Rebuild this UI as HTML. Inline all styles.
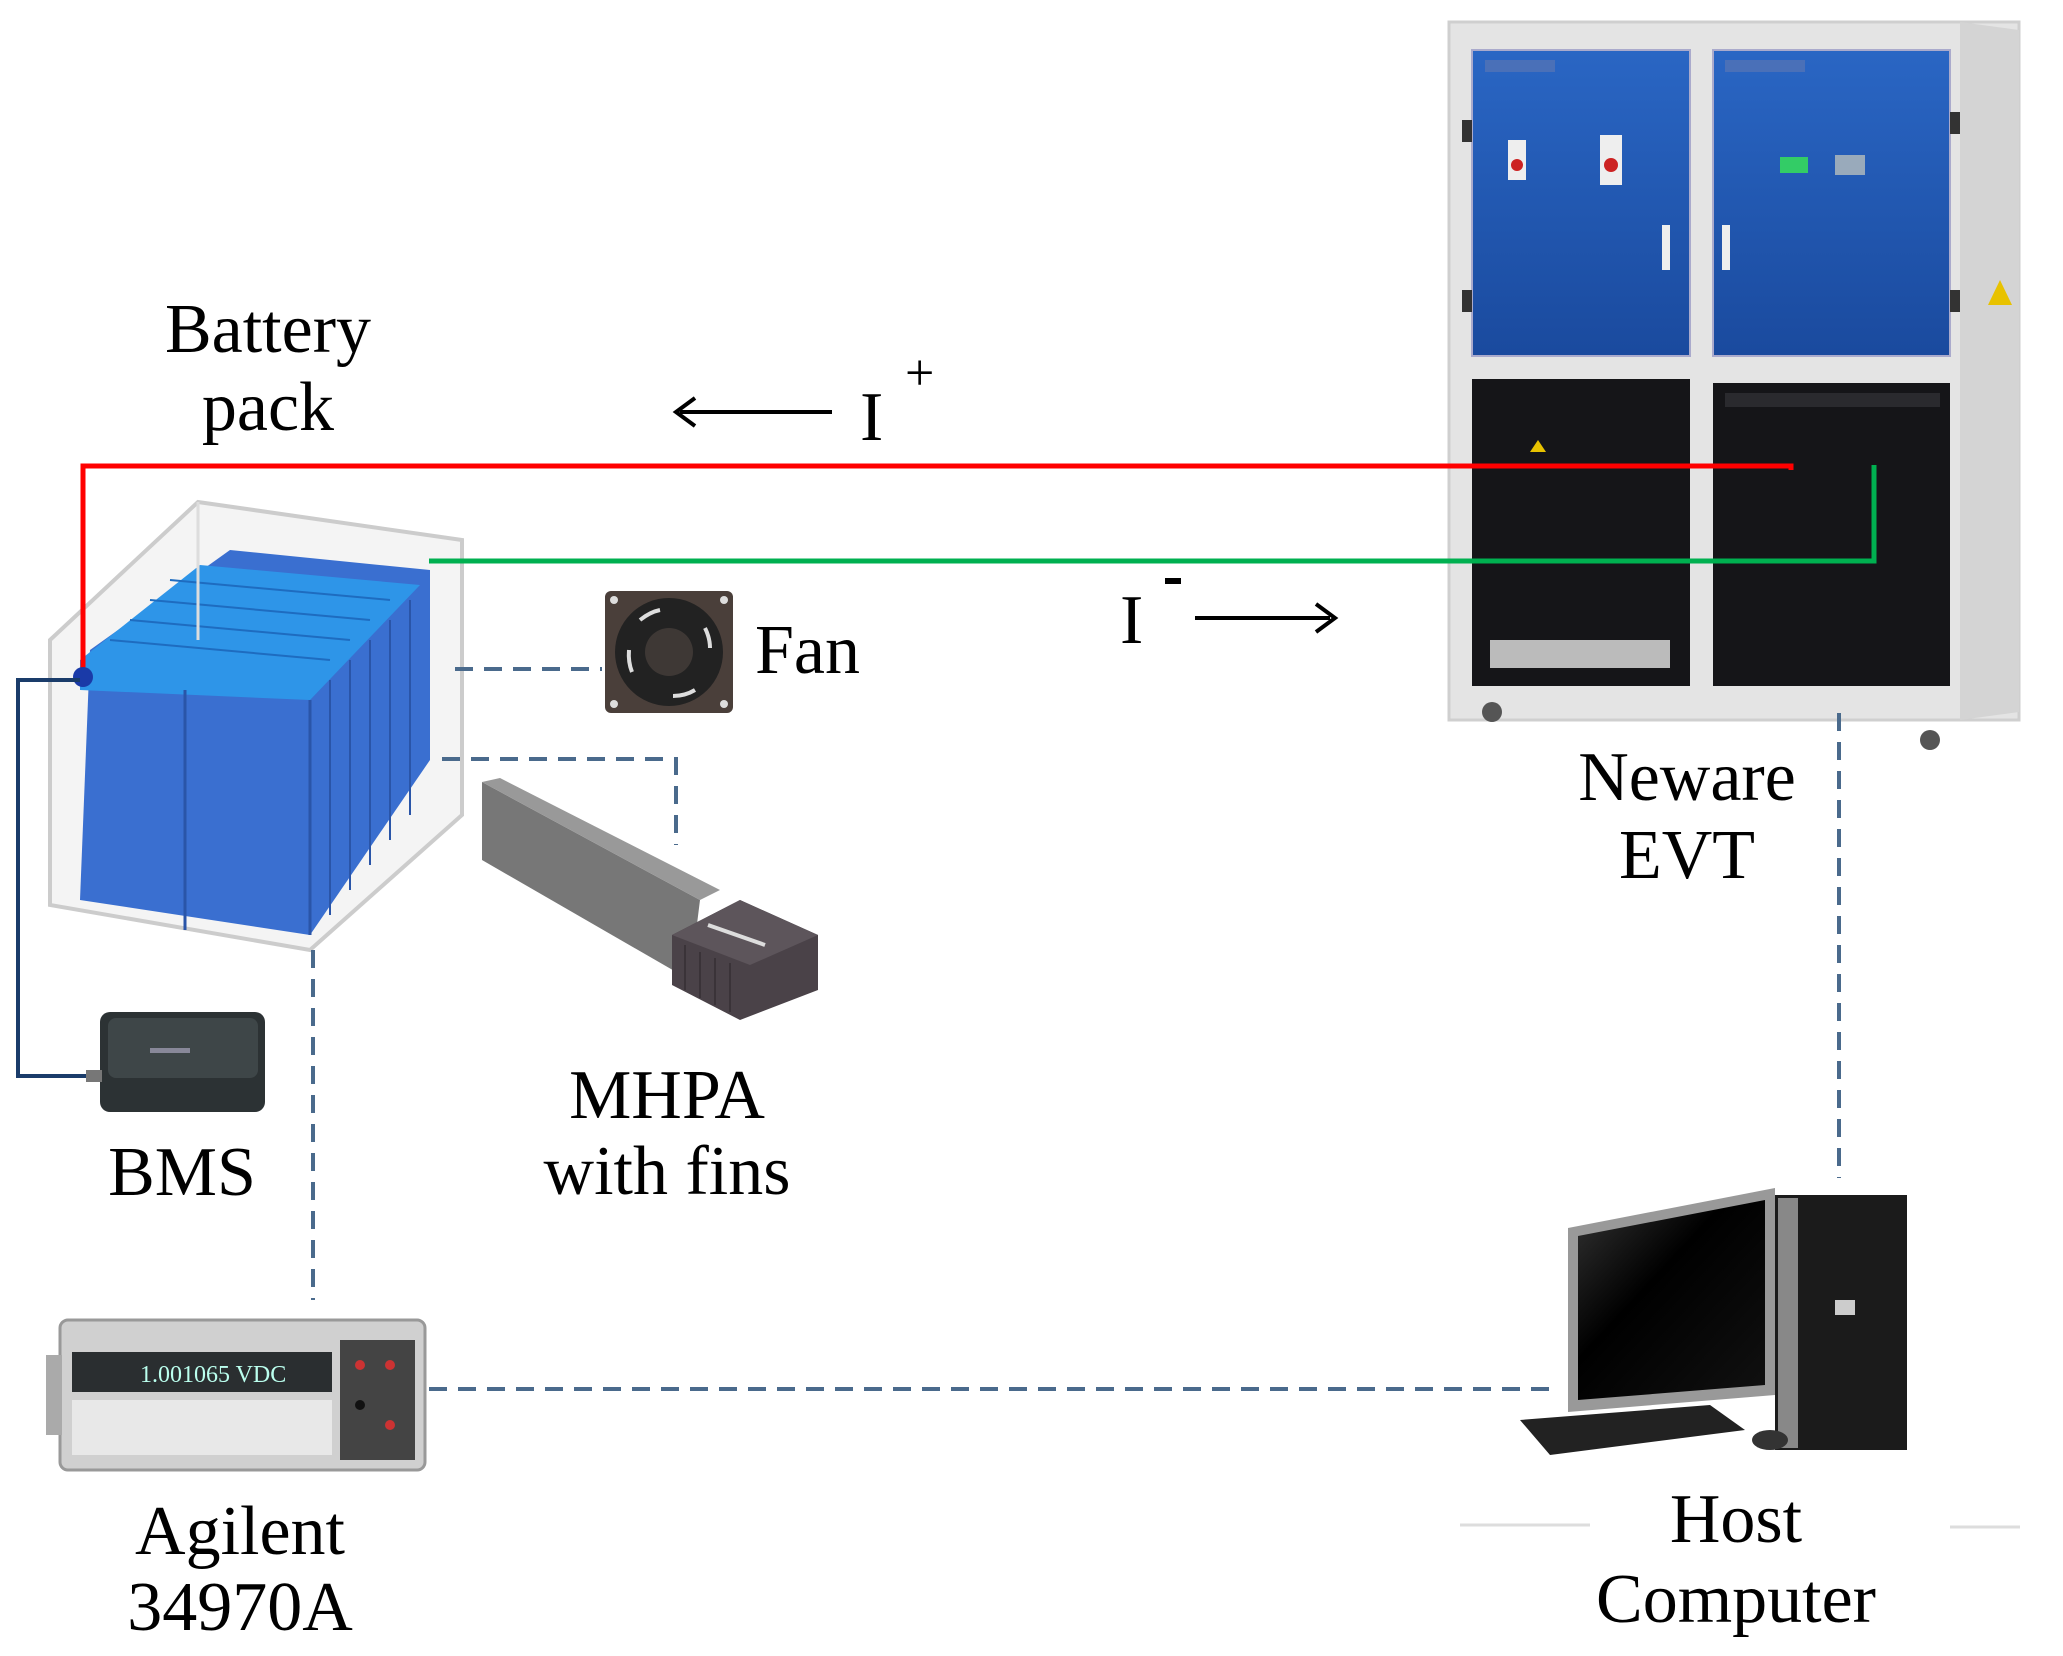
<!DOCTYPE html>
<html><head><meta charset="utf-8"><style>
html,body{margin:0;padding:0;background:#fff}
svg{display:block}
text{font-family:"Liberation Serif",serif;fill:#000}
</style></head><body>
<svg width="2063" height="1656" viewBox="0 0 2063 1656" xmlns="http://www.w3.org/2000/svg">
<defs>
<linearGradient id="blue" x1="0" y1="0" x2="0" y2="1"><stop offset="0" stop-color="#2a66c4"/><stop offset="1" stop-color="#1a4a9e"/></linearGradient>
<linearGradient id="mon" x1="0" y1="0" x2="1" y2="1"><stop offset="0" stop-color="#333"/><stop offset="0.4" stop-color="#000"/><stop offset="1" stop-color="#111"/></linearGradient>
</defs>

<!-- Cabinet -->
<rect x="1449" y="22" width="570" height="698" fill="#e4e4e4" stroke="#cfcfcf" stroke-width="3"/>
<polygon points="1960,22 2019,30 2019,712 1960,720" fill="#d4d4d4"/>
<rect x="1472" y="50" width="218" height="306" fill="url(#blue)" stroke="#aac" stroke-width="2"/>
<rect x="1713" y="50" width="237" height="306" fill="url(#blue)" stroke="#aac" stroke-width="2"/>
<rect x="1472" y="379" width="218" height="307" fill="#151518"/>
<rect x="1713" y="383" width="237" height="303" fill="#151518"/>
<rect x="1485" y="60" width="70" height="12" fill="#4a70b8"/>
<rect x="1725" y="60" width="80" height="12" fill="#4a70b8"/>
<rect x="1508" y="140" width="18" height="40" fill="#eee"/><circle cx="1517" cy="165" r="6" fill="#c22"/>
<rect x="1600" y="135" width="22" height="50" fill="#eee"/><circle cx="1611" cy="165" r="7" fill="#c22"/>
<rect x="1662" y="225" width="8" height="45" fill="#eee"/>
<rect x="1722" y="225" width="8" height="45" fill="#eee"/>
<rect x="1780" y="157" width="28" height="16" fill="#3c6"/>
<rect x="1835" y="155" width="30" height="20" fill="#9ab"/>
<rect x="1462" y="120" width="10" height="22" fill="#333"/><rect x="1462" y="290" width="10" height="22" fill="#333"/>
<rect x="1950" y="112" width="10" height="22" fill="#333"/><rect x="1950" y="290" width="10" height="22" fill="#333"/>
<rect x="1490" y="640" width="180" height="28" fill="#bbb"/>
<rect x="1725" y="393" width="215" height="14" fill="#2a2a2e"/>
<polygon points="2000,280 2012,305 1988,305" fill="#e8c200"/>
<polygon points="1538,440 1546,452 1530,452" fill="#e8c200"/>
<circle cx="1492" cy="712" r="10" fill="#555"/><circle cx="1930" cy="740" r="10" fill="#555"/>

<!-- Battery pack box -->
<polygon points="50,640 198,502 462,540 462,815 310,950 50,905" fill="#f4f4f4" stroke="#ccc" stroke-width="4"/>
<polygon points="90,650 230,550 430,570 430,760 310,935 80,900" fill="#3a6fd0"/>
<polygon points="80,660 200,565 420,585 310,700 80,690" fill="#2e95e8"/>
<line x1="185" y1="690" x2="185" y2="930" stroke="#2a55a8" stroke-width="3"/>
<line x1="310" y1="700" x2="310" y2="935" stroke="#2a55a8" stroke-width="3"/>
<g stroke="#2a55a8" stroke-width="2"><line x1="330" y1="680" x2="330" y2="915"/><line x1="350" y1="660" x2="350" y2="890"/><line x1="370" y1="640" x2="370" y2="865"/><line x1="390" y1="620" x2="390" y2="840"/><line x1="410" y1="600" x2="410" y2="815"/></g>
<g stroke="#1e6cc0" stroke-width="2"><line x1="110" y1="640" x2="330" y2="660"/><line x1="130" y1="620" x2="350" y2="640"/><line x1="150" y1="600" x2="370" y2="620"/><line x1="170" y1="580" x2="390" y2="600"/></g>
<line x1="198" y1="502" x2="198" y2="640" stroke="#ddd" stroke-width="3"/>

<!-- Red / green wires -->
<polyline points="83,673 83,466 1791,466 1791,470" fill="none" stroke="#f00" stroke-width="5"/>
<polyline points="429,561 1874,561 1874,465" fill="none" stroke="#00b050" stroke-width="5"/>
<circle cx="83" cy="677" r="10" fill="#1a3aa8"/>
<!-- BMS wire -->
<polyline points="80,680 18,680 18,1076 88,1076" fill="none" stroke="#1a3c6a" stroke-width="4"/>

<!-- Dashed connectors -->
<g fill="none" stroke="#4a6a8c" stroke-width="4" stroke-dasharray="18,11">
<line x1="455" y1="669" x2="602" y2="669"/>
<polyline points="442,759 676,759 676,845"/>
<line x1="313" y1="950" x2="313" y2="1300"/>
<line x1="429" y1="1389" x2="1551" y2="1389"/>
<line x1="1839" y1="713" x2="1839" y2="1178"/>
</g>

<!-- Fan -->
<rect x="605" y="591" width="128" height="122" rx="6" fill="#4a3f3a"/>
<circle cx="669" cy="652" r="54" fill="#222"/>
<circle cx="669" cy="652" r="24" fill="#3e3835"/>
<g stroke="#ddd" stroke-width="4" fill="none"><path d="M640,620 q10,-8 20,-10"/><path d="M705,628 q5,10 5,20"/><path d="M695,690 q-10,6 -22,6"/><path d="M632,672 q-4,-10 -3,-22"/></g>
<g fill="#ddd"><circle cx="614" cy="600" r="4"/><circle cx="724" cy="600" r="4"/><circle cx="614" cy="704" r="4"/><circle cx="724" cy="704" r="4"/></g>

<!-- MHPA -->
<polygon points="482,782 482,860 690,980 700,900" fill="#777"/>
<polygon points="482,782 700,900 720,890 500,778" fill="#999"/>
<polygon points="672,935 740,900 818,935 818,990 740,1020 672,985" fill="#4a4248"/>
<polygon points="672,935 740,900 818,935 750,965" fill="#5d555b"/>
<g stroke="#3a3338" stroke-width="2"><line x1="685" y1="945" x2="685" y2="990"/><line x1="700" y1="952" x2="700" y2="998"/><line x1="715" y1="958" x2="715" y2="1005"/><line x1="730" y1="963" x2="730" y2="1012"/></g>
<line x1="708" y1="925" x2="765" y2="945" stroke="#ddd" stroke-width="4"/>

<!-- BMS device -->
<rect x="100" y="1012" width="165" height="100" rx="10" fill="#2c3234"/>
<rect x="108" y="1018" width="150" height="60" rx="8" fill="#3e4648"/>
<rect x="150" y="1048" width="40" height="5" fill="#889"/>
<rect x="86" y="1070" width="16" height="12" fill="#777"/>

<!-- Agilent -->
<rect x="60" y="1320" width="365" height="150" rx="8" fill="#d0d0d0" stroke="#999" stroke-width="3"/>
<rect x="46" y="1355" width="16" height="80" fill="#aaa"/>
<rect x="72" y="1352" width="260" height="40" fill="#2a2e30"/>
<text x="140" y="1382" font-family="Liberation Mono,monospace" font-size="24" style="fill:#bfe">1.001065 VDC</text>
<rect x="72" y="1400" width="260" height="55" fill="#e8e8e8"/>
<rect x="340" y="1340" width="75" height="120" fill="#444"/>
<circle cx="360" cy="1365" r="5" fill="#c33"/><circle cx="390" cy="1365" r="5" fill="#c33"/><circle cx="360" cy="1405" r="5" fill="#111"/><circle cx="390" cy="1425" r="5" fill="#c33"/>

<!-- Computer -->
<polygon points="1568,1228 1775,1188 1775,1395 1568,1412" fill="#999"/>
<polygon points="1578,1236 1765,1200 1765,1385 1578,1400" fill="url(#mon)"/>
<rect x="1775" y="1195" width="132" height="255" fill="#1b1b1b"/>
<rect x="1778" y="1198" width="20" height="250" fill="#888"/>
<rect x="1835" y="1300" width="20" height="15" fill="#ccc"/>
<polygon points="1520,1420 1710,1405 1745,1430 1550,1455" fill="#222"/>
<ellipse cx="1770" cy="1440" rx="18" ry="10" fill="#333"/>
<line x1="1460" y1="1525" x2="1590" y2="1525" stroke="#ddd" stroke-width="3"/>
<line x1="1950" y1="1527" x2="2020" y2="1527" stroke="#ddd" stroke-width="3"/>

<!-- Labels -->
<g font-size="70" text-anchor="middle">
<text x="268" y="352">Battery</text>
<text x="268" y="430">pack</text>
<text x="1687" y="800">Neware</text>
<text x="1687" y="878">EVT</text>
<text x="667" y="1118">MHPA</text>
<text x="667" y="1194">with fins</text>
<text x="182" y="1195">BMS</text>
<text x="240" y="1554">Agilent</text>
<text x="240" y="1630">34970A</text>
<text x="1736" y="1542">Host</text>
<text x="1736" y="1622">Computer</text>
</g>
<text x="755" y="673" font-size="70">Fan</text>
<text x="860" y="440" font-size="70">I</text>
<text x="905" y="390" font-size="52">+</text>
<text x="1120" y="643" font-size="70">I</text>
<rect x="1165" y="578" width="16" height="6" fill="#000"/>
<!-- arrows -->
<line x1="680" y1="412" x2="832" y2="412" stroke="#000" stroke-width="4"/>
<path d="M695,398 L676,412 L695,426" fill="none" stroke="#000" stroke-width="4"/>
<line x1="1195" y1="618" x2="1330" y2="618" stroke="#000" stroke-width="4"/>
<path d="M1316,604 L1335,618 L1316,632" fill="none" stroke="#000" stroke-width="4"/>
</svg>
</body></html>
